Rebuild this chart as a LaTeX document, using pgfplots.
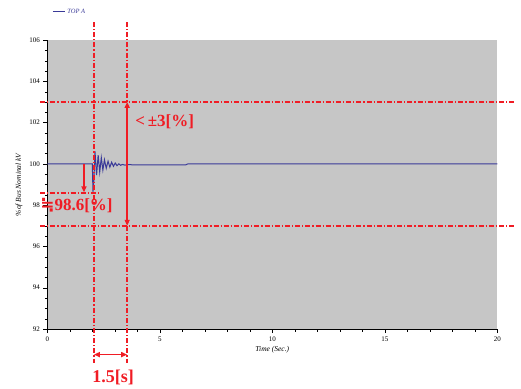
\documentclass[border=0pt]{standalone}
\usepackage{pgfplots}
\pgfplotsset{compat=1.18}
\usepackage{fontspec}
\setmainfont{Liberation Serif}
\newfontfamily\djv{DejaVu Sans}
\usetikzlibrary{arrows.meta}
\definecolor{bg}{HTML}{C6C6C6}
\definecolor{sig}{HTML}{3A3A98}
\definecolor{ann}{HTML}{F01C24}
\tikzset{dd/.style={draw=ann, dash pattern=on 5pt off 2pt on 1.2pt off 2pt, line width=1.6pt},
  ar/.style={draw=ann, fill=ann, line width=1.7pt}}
\begin{document}
\begin{tikzpicture}[x=1pt,y=1pt]
\begin{axis}[
  at={(47.3pt,59pt)}, anchor=south west,
  scale only axis, width=450pt, height=289pt,
  xmin=0, xmax=20, ymin=92, ymax=106,
  axis x line=bottom, axis y line=left,
  axis line style={-, black},
  axis background/.style={fill=bg},
  xtick={0,5,10,15,20}, minor x tick num=4,
  ytick={92,94,...,106}, minor y tick num=3,
  tick align=outside,
  major tick length=4pt, minor tick length=2.5pt,
  tick style={black},
  /pgf/number format/assume math mode=true,
  ticklabel style={font=\fontsize{7}{8}\selectfont},
  xlabel={\textit{Time (Sec.)}},
  ylabel={\textit{\%of Bus Nominal kV}},
  label style={font=\fontsize{7.5}{8}\selectfont},
  xlabel style={yshift=2pt},
  clip=false,
  legend style={at={(axis description cs:0.011,1.097)}, anchor=west, draw=none, fill=none,
    text=sig, font=\fontsize{6.5}{7}\selectfont\itshape, inner sep=0pt},
  legend image code/.code={\draw[#1] (0pt,0pt) -- (12pt,0pt);},
]
\addplot[sig, line width=1pt] coordinates {
(0,100) (2.00,100) (2.03,98.65) (2.07,99.2) (2.12,100.6) (2.19,99.45)
(2.26,100.42) (2.33,99.6) (2.40,100.3) (2.47,99.7) (2.54,100.2)
(2.62,99.78) (2.70,100.13) (2.78,99.84) (2.86,100.08) (2.94,99.88)
(3.02,100.04) (3.10,99.91) (3.18,100.0) (3.26,99.93) (3.34,99.97)
(3.45,99.94) (3.6,99.96) (4,99.95) (6.15,99.95) (6.25,100.0) (20,100.0)
};
\addlegendentry{TOP A}
% dash-dot guide lines
\draw[dd] (axis cs:2.07,106.87) -- (axis cs:2.07,90.37);
\draw[dd] (axis cs:3.55,106.87) -- (axis cs:3.55,90.37);
\draw[dd] (axis cs:-0.32,103) -- (axis cs:20.78,103);
\draw[dd] (axis cs:-0.32,97) -- (axis cs:20.78,97);
\draw[dd] (axis cs:-0.32,98.6) -- (axis cs:2.34,98.6);
% arrows
\draw[ar, -{Triangle[length=6pt,width=5pt]}] (axis cs:1.63,100) -- (axis cs:1.63,98.62);
\draw[ar, {Triangle[length=6pt,width=5pt]}-{Triangle[length=6pt,width=5pt]}] (axis cs:3.55,103) -- (axis cs:3.55,97);
\draw[ar, {Triangle[length=6pt,width=5pt]}-{Triangle[length=6pt,width=5pt]}] (axis cs:2.07,90.76) -- (axis cs:3.55,90.76);
% texts
\node[text=ann, anchor=west, inner sep=0pt, font=\fontsize{17}{19}\selectfont\bfseries] at (axis cs:3.9,102.02) {<\,±3[\%]};
\node[text=ann, anchor=west, inner sep=0pt, font=\fontsize{17}{19}\selectfont\bfseries] at (axis cs:-0.32,97.99) {{\djv ≒}98.6[\%]};
\node[text=ann, anchor=west, inner sep=0pt, font=\fontsize{18}{20}\selectfont\bfseries] at (axis cs:1.99,89.64) {1.5[s]};
\end{axis}
\pgfresetboundingbox
\path[use as bounding box] (0,0) rectangle (521pt,388pt);
\end{tikzpicture}
\end{document}
